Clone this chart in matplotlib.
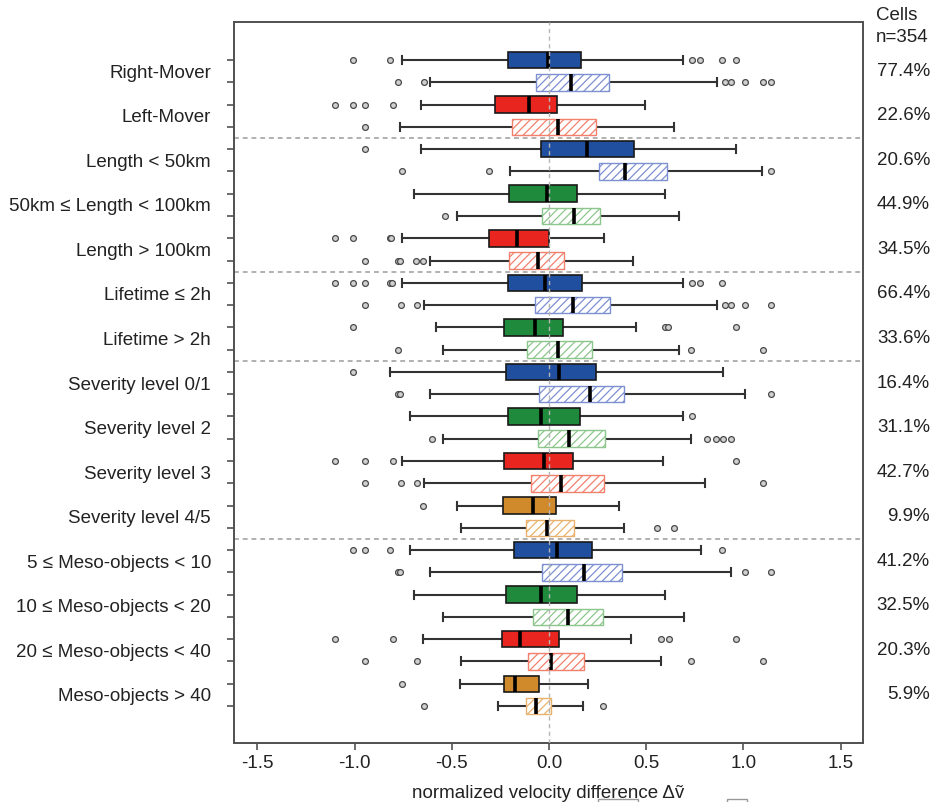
import matplotlib
matplotlib.use('Agg')
import matplotlib.pyplot as plt
import matplotlib.transforms as mtransforms
from matplotlib.patches import Rectangle

plt.rcParams['font.family'] = ['Liberation Sans', 'DejaVu Sans']
plt.rcParams['hatch.linewidth'] = 0.9

# ---------------- data ----------------
categories = ["Right-Mover", "Left-Mover", "Length < 50km", "50km \u2264 Length < 100km",
              "Length > 100km", "Lifetime \u2264 2h", "Lifetime > 2h", "Severity level 0/1",
              "Severity level 2", "Severity level 3", "Severity level 4/5",
              "5 \u2264 Meso-objects < 10", "10 \u2264 Meso-objects < 20",
              "20 \u2264 Meso-objects < 40", "Meso-objects > 40"]
shares = ["77.4%", "22.6%", "20.6%", "44.9%", "34.5%", "66.4%", "33.6%", "16.4%",
          "31.1%", "42.7%", "9.9%", "41.2%", "32.5%", "20.3%", "5.9%"]
group_color = ["blue", "red", "blue", "green", "red", "blue", "green", "blue",
               "green", "red", "orange", "blue", "green", "red", "orange"]

# two boxes per category (solid first, hatched second), top to bottom
whislo = [-0.756, -0.610, -0.657, -0.764, -0.657, -0.202, -0.692, -0.471, -0.756, -0.610,
          -0.756, -0.645, -0.583, -0.543, -0.818, -0.610, -0.713, -0.543, -0.756, -0.645,
          -0.473, -0.452, -0.713, -0.610, -0.692, -0.543, -0.649, -0.452, -0.457, -0.264]
q1 = [-0.211, -0.068, -0.279, -0.188, -0.041, 0.258, -0.207, -0.037, -0.310, -0.207,
      -0.211, -0.074, -0.231, -0.114, -0.221, -0.050, -0.211, -0.058, -0.231, -0.095,
      -0.236, -0.116, -0.182, -0.037, -0.219, -0.083, -0.244, -0.107, -0.231, -0.120]
med = [-0.006, 0.112, -0.105, 0.048, 0.194, 0.390, -0.012, 0.130, -0.163, -0.058,
       -0.019, 0.126, -0.074, 0.048, 0.050, 0.209, -0.041, 0.103, -0.025, 0.064,
       -0.083, -0.010, 0.039, 0.182, -0.039, 0.099, -0.151, 0.008, -0.174, -0.066]
q3 = [0.163, 0.308, 0.041, 0.242, 0.438, 0.605, 0.145, 0.264, -0.002, 0.079,
      0.169, 0.314, 0.074, 0.223, 0.242, 0.384, 0.161, 0.289, 0.126, 0.281,
      0.037, 0.130, 0.219, 0.374, 0.143, 0.277, 0.054, 0.180, -0.050, 0.008]
whishi = [0.688, 0.864, 0.492, 0.645, 0.963, 1.097, 0.597, 0.667, 0.283, 0.430,
          0.688, 0.864, 0.446, 0.667, 0.893, 1.010, 0.688, 0.729, 0.587, 0.804,
          0.360, 0.384, 0.781, 0.938, 0.597, 0.696, 0.421, 0.574, 0.202, 0.174]
fliers = [
    [-1.008, -0.818, 0.736, 0.777, 0.890, 0.961],
    [-0.775, -0.645, 0.905, 0.936, 1.010, 1.099, 1.143],
    [-1.099, -1.008, -0.944, -0.804],
    [-0.944],
    [-0.944],
    [-0.758, -0.310, 1.143],
    [],
    [-0.537],
    [-1.099, -1.008, -0.818, -0.810],
    [-0.944, -0.777, -0.764, -0.684, -0.649],
    [-1.099, -1.008, -0.944, -0.818, -0.806, 0.736, 0.777, 0.890],
    [-0.944, -0.760, -0.680, 0.905, 0.936, 1.010, 1.143],
    [-1.008, 0.597, 0.612, 0.961],
    [-0.775, 0.729, 1.099],
    [-1.008],
    [-0.777, -0.767, 1.143],
    [0.736],
    [-0.603, 0.812, 0.857, 0.897, 0.936],
    [-1.099, -0.944, -0.804, 0.961],
    [-0.944, -0.760, -0.680, 1.099],
    [-0.649],
    [0.556, 0.645],
    [-1.008, -0.944, -0.818, 0.890],
    [-0.777, -0.767, 1.010, 1.143],
    [],
    [],
    [-1.099, -0.804, 0.576, 0.618, 0.961],
    [-0.944, -0.680, 0.731, 1.099],
    [-0.756],
    [-0.645, 0.277],
]
xticks = [-1.5, -1.0, -0.5, 0.0, 0.5, 1.0, 1.5]
xticklabels = ["-1.5", "-1.0", "-0.5", "0.0", "0.5", "1.0", "1.5"]
separators_after = [1, 4, 6, 10]   # category index after which a dashed line is drawn

# ---------------- styles ----------------
solid_col = {'blue': '#1f4f9e', 'red': '#e8261f', 'green': '#208a3c', 'orange': '#d08a2c'}
light_col = {'blue': '#7d90d2', 'red': '#f2806c', 'green': '#8cc68c', 'orange': '#e8b26c'}

n = len(whislo)
positions = [n - i for i in range(n)]

fig = plt.figure(figsize=(9.35, 8.02), dpi=100)
ax = fig.add_axes([234 / 935, 1 - 743 / 802, (863 - 234) / 935, (743 - 22) / 802])

stats = []
for i in range(n):
    stats.append(dict(med=med[i], q1=q1[i], q3=q3[i], whislo=whislo[i],
                      whishi=whishi[i], fliers=fliers[i]))

res = ax.bxp(stats, positions=positions, widths=0.74, capwidths=0.36,
             orientation='horizontal', patch_artist=True, showfliers=True)

for i in range(n):
    g = group_color[i // 2]
    box = res['boxes'][i]
    if i % 2 == 0:
        box.set_facecolor(solid_col[g])
        box.set_edgecolor('#1a1a1a')
        box.set_linewidth(1.2)
    else:
        box.set_facecolor('white')
        box.set_edgecolor(light_col[g])
        box.set_hatch('////')
        box.set_linewidth(1.0)
    box.set_zorder(3)
    m = res['medians'][i]
    m.set_color('black')
    m.set_linewidth(2.6)
    m.set_zorder(4)
    for w in res['whiskers'][2 * i:2 * i + 2]:
        w.set_color('#333333')
        w.set_linewidth(1.5)
        w.set_linestyle('-')
    for c in res['caps'][2 * i:2 * i + 2]:
        c.set_color('#333333')
        c.set_linewidth(1.5)
    f = res['fliers'][i]
    f.set_marker('o')
    f.set_markersize(4.2)
    f.set_markerfacecolor('#d0d0d0')
    f.set_markeredgecolor('#4a4a4a')
    f.set_markeredgewidth(0.9)

# reference lines
ax.axvline(0, color='#b5b5b5', linestyle=(0, (3, 2.5)), linewidth=1.0, zorder=5)
for k in separators_after:
    ysep = n - 2 * k - 1.5
    ax.axhline(ysep, color='#b0b0b0', linestyle=(0, (2.5, 2)), linewidth=1.4, zorder=1)

ax.set_xlim(-1.62, 1.615)
ax.set_ylim(-0.66, 31.71)

ax.set_xticks(xticks)
ax.set_xticklabels(xticklabels, fontsize=13.5, color='#222222')
ax.tick_params(axis='x', length=5, width=1.1, color='#444444', pad=4)

ax.set_yticks(positions)
ax.set_yticklabels([])
ax.tick_params(axis='y', which='major', length=5, width=1.1, color='#444444')
mids = [n - 2 * k - 0.5 for k in range(len(categories))]
ax.set_yticks(mids, minor=True)
ax.set_yticklabels(categories, minor=True, fontsize=13.5, color='#222222')
ax.tick_params(axis='y', which='minor', length=0, pad=16.5)

for s in ax.spines.values():
    s.set_linewidth(1.4)
    s.set_color('#505050')

ax.set_xlabel('normalized velocity difference \u0394\u1e7d', fontsize=13.5,
              color='#222222', labelpad=9)

# right-hand annotations
trans = mtransforms.blended_transform_factory(fig.transFigure, ax.transData)
for k, s in enumerate(shares):
    ax.text(930 / 935, mids[k], s, transform=trans, ha='right', va='center',
            fontsize=13.5, color='#222222', clip_on=False)
fig.text(876 / 935, 1 - 15 / 802, 'Cells', ha='left', va='center', fontsize=13.5, color='#222222')
fig.text(876 / 935, 1 - 38 / 802, 'n=354', ha='left', va='center', fontsize=13.5, color='#222222')

# cut-off legend boxes at the bottom edge
for x0, w in [(598, 40), (727, 20)]:
    fig.patches.append(Rectangle((x0 / 935, -0.02), w / 935, 0.02 + 3 / 802,
                                 transform=fig.transFigure, fill=False,
                                 edgecolor='#999999', linewidth=1.0))

fig.savefig('out.png', dpi=100)
